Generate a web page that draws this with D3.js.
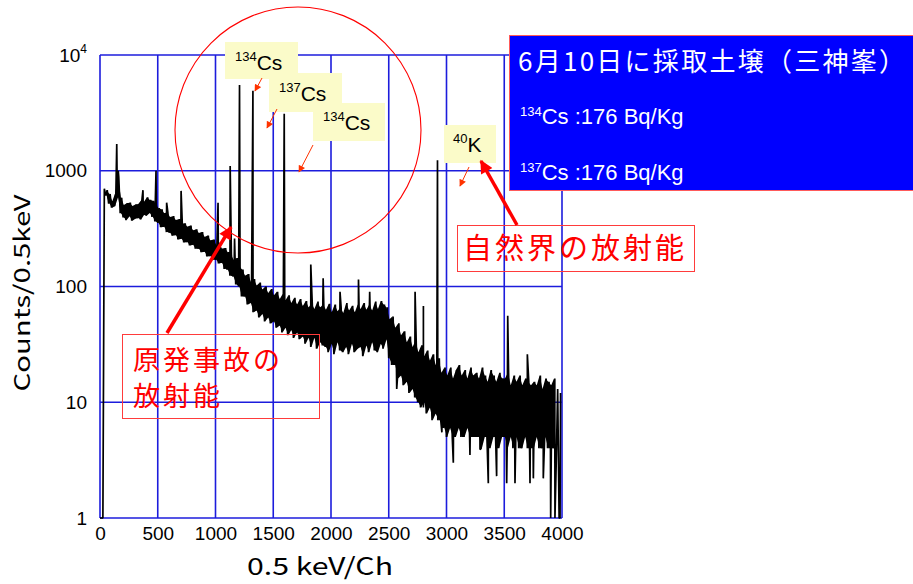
<!DOCTYPE html>
<html>
<head>
<meta charset="utf-8">
<script src="https://cdn.jsdelivr.net/npm/d3@7"></script>
<style>
  body { margin: 0; background: #fff; }
  svg { display: block; }
</style>
</head>
<body>
<div id="chart"></div>
<script>
// spectrum: typical min / max counts in every 25-channel bin
var binWidth = 25;
var lowCounts = [
    1, 1, 610, 520, 480, 495, 590, 430, 395, 375,
    405, 370, 385, 390, 380, 415, 410, 432, 400, 365,
    355, 325, 328, 295, 292, 275, 278, 255, 258, 240,
    242, 226, 230, 212, 212, 198, 200, 182, 183, 170,
    170, 158, 160, 142, 140, 124, 122, 104, 100, 82,
    82, 70, 72, 60, 62, 54, 58, 50, 54, 48,
    50, 44, 46, 40, 44, 38, 42, 36, 40, 35,
    37, 32, 36, 30, 36, 29, 33, 31, 30, 27,
    32, 26, 33, 28, 27, 30, 26, 32, 27, 29,
    30, 25, 31, 27, 33, 28, 27, 32, 29, 35,
    24, 21, 21, 16, 17, 14, 15, 12, 13, 11,
    10, 9, 10, 8, 9, 7, 8, 7, 7, 6,
    5, 6, 5, 5, 6, 5, 5, 6, 5, 5,
    5, 5, 4, 5, 5, 4, 5, 5, 4, 5,
    5, 4, 5, 4, 5, 4, 4, 5, 4, 4,
    4, 5, 4, 4, 5, 4, 4, 4, 3, 1
];
var highCounts = [
    1, 700, 680, 630, 545, 640, 880, 585, 505, 525,
    530, 495, 510, 515, 555, 540, 590, 560, 550, 515,
    475, 465, 430, 438, 398, 405, 375, 382, 348, 352,
    328, 336, 305, 312, 290, 296, 268, 276, 250, 255,
    228, 238, 212, 215, 198, 190, 170, 176, 148, 140,
    124, 128, 110, 116, 102, 108, 94, 100, 88, 95,
    84, 90, 78, 86, 76, 84, 72, 80, 70, 78,
    68, 75, 66, 72, 64, 74, 66, 70, 63, 71,
    60, 70, 61, 66, 59, 72, 62, 68, 60, 70,
    64, 72, 63, 70, 62, 74, 64, 75, 70, 66,
    52, 55, 44, 48, 38, 41, 33, 37, 30, 34,
    27, 31, 25, 28, 23, 26, 21, 24, 18, 20,
    17, 20, 16, 19, 21, 17, 19, 16, 20, 17,
    18, 16, 20, 17, 15, 19, 17, 15, 18, 16,
    16, 18, 14, 17, 15, 17, 14, 16, 15, 14,
    15, 14, 17, 13, 16, 15, 14, 16, 13, 12
];
// peaks (channel, top count)
var peakChannels = [145, 158, 372, 485, 577, 702, 1022, 1127, 1165, 1208, 1324, 1595, 1825, 1932, 2078, 2238, 2335, 2728, 2800, 2922, 3530, 3700];
var peakCounts = [1700, 1000, 680, 1000, 530, 670, 530, 1100, 260, 5500, 4900, 3100, 155, 118, 90, 115, 90, 90, 68, 1230, 56, 26];
// single-channel dips below the band (channel, count)
var dipChannels = [2569, 2800, 2915, 2960, 3059, 3203, 3290, 3362, 3434, 3521, 3593, 3723, 3752, 3838, 3902, 3939, 3983];
var dipCounts = [13, 9, 8, 5.5, 3, 3.5, 3.9, 2, 2.3, 2, 2, 2, 2.2, 2.2, 1, 1, 1];

var xTicks = [0, 500, 1000, 1500, 2000, 2500, 3000, 3500, 4000];
var yTicks = [1, 10, 100, 1000, 10000];
var xTitle = "0.5 keV/Ch";
var yTitle = "Counts/0.5keV";
var infoTitle = "6月10日に採取土壌（三神峯）";
var infoIsotopes = ["134", "137"];
var infoValues = ["Cs :176 Bq/Kg", "Cs :176 Bq/Kg"];

(function () {
    var width = 913;
    var height = 584;
    var latin = "'Liberation Sans', Arial, sans-serif";
    var cjk = "'Noto Sans CJK JP', 'Noto Sans', sans-serif";
    var gridColor = "#1c1cdc";

    var x = d3.scaleLinear().domain([0, 4000]).range([100, 562]);
    var y = d3.scaleLog().domain([1, 10000]).range([518, 55]);

    var svg = d3.select("#chart").append("svg")
        .attr("width", width).attr("height", height);

    var defs = svg.append("defs");
    defs.append("marker").attr("id", "bigHead")
        .attr("viewBox", "0 0 10 10").attr("refX", 9).attr("refY", 5)
        .attr("markerUnits", "userSpaceOnUse")
        .attr("markerWidth", 15).attr("markerHeight", 13).attr("orient", "auto")
        .append("path").attr("d", "M0,0L10,5L0,10z").attr("fill", "#ff0000");
    defs.append("marker").attr("id", "smallHead")
        .attr("viewBox", "0 0 10 10").attr("refX", 9).attr("refY", 5)
        .attr("markerUnits", "userSpaceOnUse")
        .attr("markerWidth", 8).attr("markerHeight", 7).attr("orient", "auto")
        .append("path").attr("d", "M0,0L10,5L0,10z").attr("fill", "#ff3300");

    renderGrid();
    renderAxes();
    renderSpectrum();
    renderNotes();

    /* functions */

    function renderGrid() {
        var g = svg.append("g");
        g.selectAll("line.v").data(xTicks).enter().append("line")
            .attr("x1", d => x(d)).attr("x2", d => x(d))
            .attr("y1", y(1)).attr("y2", y(10000))
            .attr("stroke", gridColor).attr("stroke-width", 1.6);
        g.selectAll("line.h").data(yTicks).enter().append("line")
            .attr("x1", x(0)).attr("x2", x(4000))
            .attr("y1", d => y(d)).attr("y2", d => y(d))
            .attr("stroke", gridColor).attr("stroke-width", 1.6);
    }

    function renderAxes() {
        var xAxis = svg.append("g")
            .attr("transform", "translate(0," + y(1) + ")")
            .call(d3.axisBottom(x).tickValues(xTicks).tickSize(0).tickPadding(9).tickFormat(d3.format("d")));
        xAxis.select(".domain").remove();
        xAxis.selectAll("text").attr("font-family", latin).attr("font-size", 19).attr("fill", "#000");

        var yAxis = svg.append("g")
            .attr("transform", "translate(" + x(0) + ",0)")
            .call(d3.axisLeft(y).tickValues(yTicks).tickSize(0).tickPadding(13)
                .tickFormat(d => d === 10000 ? "" : d3.format("d")(d)));
        yAxis.select(".domain").remove();
        yAxis.selectAll("text").attr("font-family", latin).attr("font-size", 19).attr("fill", "#000");
        var top = yAxis.selectAll(".tick").filter(d => d === 10000).select("text")
            .attr("dy", "0.32em");
        top.append("tspan").text("10");
        top.append("tspan").attr("font-size", 12).attr("dy", "-0.75em").text("4");

        svg.append("text")
            .attr("x", 320).attr("y", 575)
            .attr("text-anchor", "middle")
            .attr("font-family", cjk).attr("font-size", 24)
            .attr("textLength", 146).attr("lengthAdjust", "spacingAndGlyphs")
            .text(xTitle);

        svg.append("text")
            .attr("transform", "translate(30,293) rotate(-90)")
            .attr("text-anchor", "middle")
            .attr("font-family", cjk).attr("font-size", 22)
            .attr("textLength", 197).attr("lengthAdjust", "spacingAndGlyphs")
            .text(yTitle);
    }

    function renderSpectrum() {
        var bins = lowCounts.map(function (c, i) {
            return { ch: i * binWidth, lo: c, hi: highCounts[i] };
        });

        // solid core of the noisy band
        var area = d3.area()
            .x(d => x(d.ch + binWidth / 4))
            .y0(d => y(Math.max(1, d.lo)))
            .y1(d => y(Math.max(1, d.hi)));
        svg.append("path")
            .datum(bins.filter(d => d.ch >= 50 && d.ch < 3950))
            .attr("fill", "#000")
            .attr("d", area);

        var points = [];
        bins.forEach(function (b) {
            points.push({ ch: b.ch, counts: b.lo });
            points.push({ ch: b.ch + binWidth / 2, counts: b.hi });
        });
        peakChannels.forEach(function (ch, i) {
            points.push({ ch: ch, counts: peakCounts[i] });
        });
        dipChannels.forEach(function (ch, i) {
            points.push({ ch: ch, counts: dipCounts[i] });
        });
        points.sort(function (a, b) { return a.ch - b.ch; });

        var line = d3.line()
            .x(d => x(d.ch))
            .y(d => y(Math.max(1, d.counts)));

        svg.append("path")
            .datum(points)
            .attr("fill", "none")
            .attr("stroke", "#000")
            .attr("stroke-width", 1.7)
            .attr("stroke-linejoin", "bevel")
            .attr("d", line);
    }

    function labelBox(bx, by, w, h, sup, main, tx, base) {
        svg.append("rect")
            .attr("x", bx).attr("y", by).attr("width", w).attr("height", h)
            .attr("fill", "#fbfbc9");
        var t = svg.append("text")
            .attr("x", tx).attr("y", base)
            .attr("font-family", latin).attr("fill", "#000");
        t.append("tspan").attr("font-size", 13).attr("dy", -9).text(sup);
        t.append("tspan").attr("font-size", 21).attr("dy", 9).text(main);
    }

    function smallArrow(x1, y1, x2, y2) {
        svg.append("line")
            .attr("x1", x1).attr("y1", y1).attr("x2", x2).attr("y2", y2)
            .attr("stroke", "#ff3300").attr("stroke-width", 1)
            .attr("marker-end", "url(#smallHead)");
    }

    function bigArrow(x1, y1, x2, y2) {
        svg.append("line")
            .attr("x1", x1).attr("y1", y1).attr("x2", x2).attr("y2", y2)
            .attr("stroke", "#ff0000").attr("stroke-width", 3.5)
            .attr("marker-end", "url(#bigHead)");
    }

    function renderNotes() {
        // circle round the caesium peaks
        svg.append("circle")
            .attr("cx", 298).attr("cy", 130).attr("r", 123)
            .attr("fill", "none").attr("stroke", "#ff0000").attr("stroke-width", 1.1);

        labelBox(225, 42, 73, 37, "134", "Cs", 235, 70);
        labelBox(269, 73, 73, 39, "137", "Cs", 279, 101);
        labelBox(313, 103, 72, 38, "134", "Cs", 323, 130);
        labelBox(444, 125, 52, 38, "40", "K", 453, 152);

        smallArrow(262, 78, 255, 91);
        smallArrow(277, 109, 267, 128);
        smallArrow(313, 145, 299, 172);
        smallArrow(469, 167, 460, 186);

        // info panel
        svg.append("rect")
            .attr("x", 509.5).attr("y", 35.5).attr("width", 410).attr("height", 155)
            .attr("fill", "#0000ff").attr("stroke", "#ff5a5a").attr("stroke-width", 1);
        svg.append("text")
            .attr("x", 518).attr("y", 71)
            .attr("font-family", cjk).attr("font-size", 26).attr("fill", "#fff")
            .attr("textLength", 387).attr("lengthAdjust", "spacing")
            .text(infoTitle);
        infoIsotopes.forEach(function (iso, i) {
            var t = svg.append("text")
                .attr("x", 520).attr("y", 124 + i * 56)
                .attr("font-family", latin).attr("fill", "#fff");
            t.append("tspan").attr("font-size", 13).attr("dy", -8).text(iso);
            t.append("tspan").attr("font-size", 22).attr("dy", 8).text(infoValues[i]);
        });

        // red boxed captions
        svg.append("rect")
            .attr("x", 457.5).attr("y", 225.5).attr("width", 237).attr("height", 46)
            .attr("fill", "none").attr("stroke", "#ff3b3b").attr("stroke-width", 1);
        svg.append("text")
            .attr("x", 463).attr("y", 259)
            .attr("font-family", cjk).attr("font-size", 29).attr("fill", "#ff0000")
            .attr("textLength", 221).attr("lengthAdjust", "spacing")
            .text("自然界の放射能");

        svg.append("rect")
            .attr("x", 122.5).attr("y", 334.5).attr("width", 197).attr("height", 84)
            .attr("fill", "none").attr("stroke", "#ff3b3b").attr("stroke-width", 1);
        var cap = svg.append("text")
            .attr("font-family", cjk).attr("font-size", 27).attr("fill", "#ff0000");
        cap.append("tspan").attr("x", 133).attr("y", 370).attr("letter-spacing", 3).text("原発事故の");
        cap.append("tspan").attr("x", 133).attr("y", 406).attr("letter-spacing", 3).text("放射能");

        bigArrow(167, 333, 231, 227);
        bigArrow(517, 225, 481, 161);
    }
})();
</script>
</body>
</html>
